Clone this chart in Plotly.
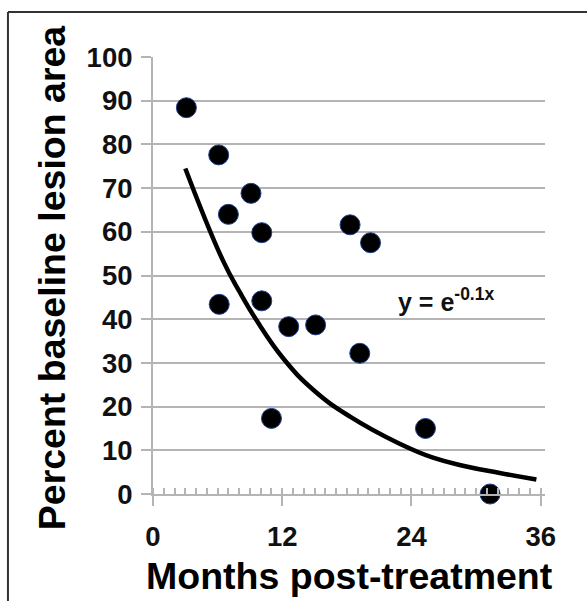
import plotly.graph_objects as go

# Data
months = [3.1, 6.1, 7.0, 9.1, 10.1, 6.15, 10.1, 12.6, 15.1, 11.0, 18.3, 20.2, 19.2, 25.3, 31.3]
lesion_pct = [88.4, 77.6, 64.0, 68.8, 59.8, 43.4, 44.2, 38.3, 38.7, 17.3, 61.6, 57.5, 32.2, 15.0, 0.0]

# Fitted trend curve
curve_x = [3.0, 6.5, 8.1, 9.6, 12.1, 14.9, 18.3, 22.9, 26.0, 29.1, 32.2, 35.6]
curve_y = [74.5, 53.4, 46.0, 39.8, 31.0, 23.8, 17.7, 11.5, 8.3, 6.3, 4.8, 3.3]

x_ticks = [0, 12, 24, 36]
y_ticks = [0, 10, 20, 30, 40, 50, 60, 70, 80, 90, 100]

FONT = "Liberation Sans, Arial, sans-serif"
GRID = "#b4b4b4"

fig = go.Figure()
fig.add_trace(go.Scatter(
    x=curve_x, y=curve_y, mode="lines",
    line=dict(color="black", width=4.5, shape="spline", smoothing=1.3),
    hoverinfo="skip", showlegend=False, cliponaxis=False))
fig.add_trace(go.Scatter(
    x=months, y=lesion_pct, mode="markers",
    marker=dict(size=20, color="black", line=dict(color="#1f3f8f", width=1)),
    showlegend=False, cliponaxis=False))

fig.update_layout(
    width=587, height=601,
    margin=dict(l=153, r=42, t=57, b=107),
    paper_bgcolor="white", plot_bgcolor="white",
    font=dict(family=FONT, color="#111"),
    xaxis=dict(range=[0, 36.4], tickmode="array", tickvals=x_ticks,
               ticktext=[str(v) for v in x_ticks],
               showgrid=False, zeroline=False,
               showline=True, linecolor=GRID, linewidth=2,
               ticks="outside", ticklen=10, tickwidth=2, tickcolor=GRID,
               tickfont=dict(size=27.5, weight="bold", family=FONT, color="#111"),
               ticklabelstandoff=7,
               minor=dict(dtick=1, ticks="inside", ticklen=6, tickwidth=1.5, tickcolor=GRID, showgrid=False)),
    yaxis=dict(range=[0, 100], tickmode="array", tickvals=y_ticks,
               ticktext=[str(v) for v in y_ticks],
               showgrid=True, gridcolor=GRID, gridwidth=2, zeroline=False,
               showline=True, linecolor=GRID, linewidth=2,
               ticks="outside", ticklen=10, tickwidth=2, tickcolor=GRID,
               tickfont=dict(size=27.5, weight="bold", family=FONT, color="#111"),
               ticklabelstandoff=3),
    annotations=[
        dict(text="Percent baseline lesion area", xref="paper", yref="paper",
             x=-0.2577, y=0.496, xanchor="center", yanchor="middle", textangle=-90,
             showarrow=False, font=dict(size=37.5, weight="bold", family=FONT, color="black")),
        dict(text="Months post-treatment", xref="paper", yref="paper",
             x=0.501, y=-0.188, xanchor="center", yanchor="middle",
             showarrow=False, font=dict(size=37.5, weight="bold", family=FONT, color="black")),
        dict(text="y = e<sup>-0.1x</sup>", xref="x", yref="y", x=27.2, y=44.4,
             xanchor="center", yanchor="middle", showarrow=False,
             font=dict(size=25, weight="bold", family=FONT, color="#111")),
    ],
    shapes=[
        dict(type="line", xref="paper", yref="paper", x0=-0.370, x1=-0.370, y0=-0.3, y1=1.103,
             line=dict(color="#333", width=2)),
        dict(type="line", xref="paper", yref="paper", x0=-0.370, x1=1.2, y0=1.103, y1=1.103,
             line=dict(color="#333", width=2)),
    ],
)

fig.write_html("out.html", config={"displayModeBar": False},
               post_script="document.body.style.margin='0';document.body.style.overflow='hidden';")
